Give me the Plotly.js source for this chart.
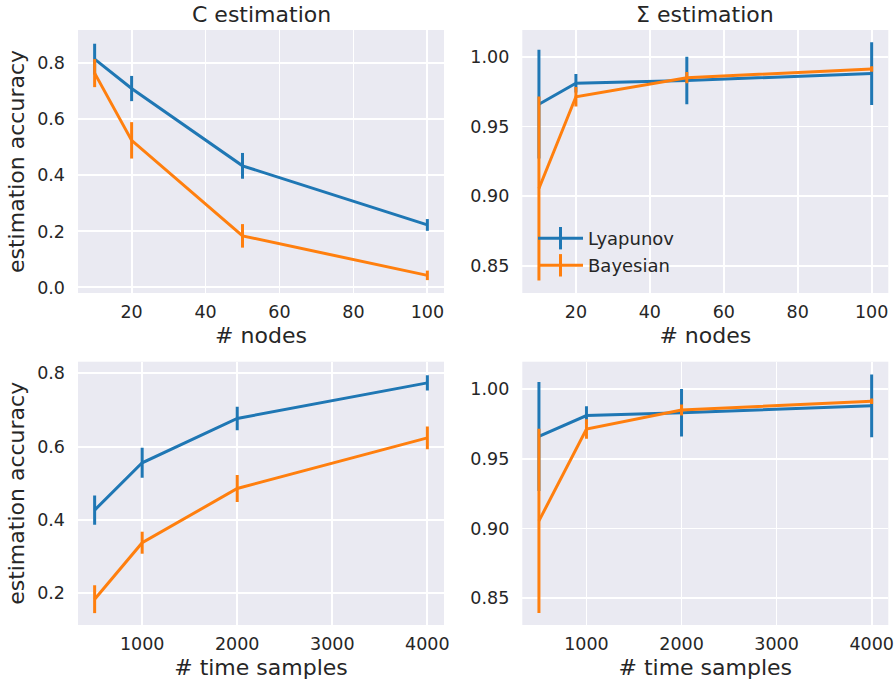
<!DOCTYPE html>
<html>
<head>
<meta charset="utf-8">
<script src="https://cdn.plot.ly/plotly-3.0.1.min.js"></script>
<style>html,body{margin:0;padding:0;background:#fff;}#chart{width:895px;height:681px;}</style>
</head>
<body>
<div id="chart"></div>
<script>
// ---- data ----
const nodes = [10, 20, 50, 100];
const samples = [500, 1000, 2000, 4000];

const cNodesLyap = [0.815, 0.710, 0.434, 0.223];
const cNodesLyapErr = [0.055, 0.045, 0.046, 0.021];
const cNodesBayes = [0.765, 0.525, 0.184, 0.043];
const cNodesBayesErr = [0.050, 0.065, 0.042, 0.017];

const sNodesLyap = [0.966, 0.981, 0.983, 0.988];
const sNodesLyapErr = [0.039, 0.0066, 0.017, 0.0225];
const sNodesBayes = [0.9055, 0.9713, 0.985, 0.9912];
const sNodesBayesErr = [0.066, 0.007, 0.004, 0.002];

const cTimeLyap = [0.427, 0.556, 0.677, 0.774];
const cTimeLyapErr = [0.040, 0.041, 0.032, 0.021];
const cTimeBayes = [0.184, 0.338, 0.486, 0.624];
const cTimeBayesErr = [0.038, 0.030, 0.037, 0.031];

const sTimeLyap = [0.966, 0.981, 0.983, 0.988];
const sTimeLyapErr = [0.039, 0.0066, 0.017, 0.0225];
const sTimeBayes = [0.9055, 0.9713, 0.985, 0.9912];
const sTimeBayesErr = [0.066, 0.007, 0.004, 0.002];

const seriesNames = ['Lyapunov', 'Bayesian'];
const panelTitles = ['C estimation', 'Σ estimation'];
const xTitles = ['# nodes', '# time samples'];
const yTitle = 'estimation accuracy';

// ---- style ----
const BLUE = '#1f77b4', ORANGE = '#ff7f0e';
const FONT = 'DejaVu Sans, sans-serif';
const TXT = '#262626';
const LW = 3;

function tr(x, y, err, color, xa, ya) {
  return {
    x: x, y: y, type: 'scatter', mode: 'lines', xaxis: xa, yaxis: ya,
    line: {color: color, width: LW}, showlegend: false, hoverinfo: 'skip',
    error_y: {type: 'data', array: err, visible: true, color: color, thickness: LW, width: 0}
  };
}

const data = [
  tr(nodes, cNodesLyap, cNodesLyapErr, BLUE, 'x', 'y'),
  tr(nodes, cNodesBayes, cNodesBayesErr, ORANGE, 'x', 'y'),
  tr(nodes, sNodesLyap, sNodesLyapErr, BLUE, 'x2', 'y2'),
  tr(nodes, sNodesBayes, sNodesBayesErr, ORANGE, 'x2', 'y2'),
  tr(samples, cTimeLyap, cTimeLyapErr, BLUE, 'x3', 'y3'),
  tr(samples, cTimeBayes, cTimeBayesErr, ORANGE, 'x3', 'y3'),
  tr(samples, sTimeLyap, sTimeLyapErr, BLUE, 'x4', 'y4'),
  tr(samples, sTimeBayes, sTimeBayesErr, ORANGE, 'x4', 'y4'),
  // legend entries (no data)
  {x: [null], y: [null], type: 'scatter', mode: 'lines+markers', xaxis: 'x2', yaxis: 'y2',
   name: seriesNames[0], legendgroup: 'a', line: {color: BLUE, width: LW},
   marker: {symbol: 'line-ns', size: 18, color: BLUE, line: {color: BLUE, width: LW}}},
  {x: [null], y: [null], type: 'scatter', mode: 'lines+markers', xaxis: 'x2', yaxis: 'y2',
   name: seriesNames[1], legendgroup: 'b', line: {color: ORANGE, width: LW},
   marker: {symbol: 'line-ns', size: 18, color: ORANGE, line: {color: ORANGE, width: LW}}}
];

const W = 895, H = 681;
const dx1 = [78 / W, 444 / W], dx2 = [522.3 / W, 888.3 / W];
const dyTop = [1 - 293 / H, 1 - 30 / H], dyBot = [1 - 625 / H, 1 - 361.7 / H];

function xax(domain, range, dtick, title, anchor) {
  return {
    domain: domain, range: range, dtick: dtick, tick0: 0, anchor: anchor,
    showgrid: true, gridcolor: '#ffffff', gridwidth: 1.8, zeroline: false, showline: false,
    ticks: '', ticklabelstandoff: 6,
    tickfont: {family: FONT, size: 17.5, color: TXT},
    title: {text: title, font: {family: FONT, size: 22, color: TXT}, standoff: 7}
  };
}
function yax(domain, range, dtick, fmt, title, anchor) {
  const a = {
    domain: domain, range: range, dtick: dtick, tick0: 0, tickformat: fmt, anchor: anchor,
    showgrid: true, gridcolor: '#ffffff', gridwidth: 1.8, zeroline: false, showline: false,
    ticks: '', ticklabelstandoff: 12,
    tickfont: {family: FONT, size: 17.5, color: TXT}
  };
  if (title) a.title = {text: title, font: {family: FONT, size: 22, color: TXT}, standoff: 6};
  return a;
}

const layout = {
  width: W, height: H,
  margin: {l: 0, r: 0, t: 0, b: 0},
  paper_bgcolor: '#ffffff', plot_bgcolor: '#EAEAF2',
  font: {family: FONT, color: TXT},
  xaxis: xax(dx1, [5.5, 104.5], 20, xTitles[0], 'y'),
  yaxis: yax(dyTop, [-0.02, 0.919], 0.2, '.1f', yTitle, 'x'),
  xaxis2: xax(dx2, [5.5, 104.5], 20, xTitles[0], 'y2'),
  yaxis2: yax(dyTop, [0.8306, 1.0192], 0.05, '.2f', null, 'x2'),
  xaxis3: xax(dx1, [325, 4175], 1000, xTitles[1], 'y3'),
  yaxis3: yax(dyBot, [0.1136, 0.8317], 0.2, '.1f', yTitle, 'x3'),
  xaxis4: xax(dx2, [325, 4175], 1000, xTitles[1], 'y4'),
  yaxis4: yax(dyBot, [0.8309, 1.0196], 0.05, '.2f', null, 'x4'),
  showlegend: true,
  legend: {
    x: 533 / W, y: 1 - 220 / H, xanchor: 'left', yanchor: 'top',
    bgcolor: 'rgba(0,0,0,0)', borderwidth: 0, tracegroupgap: 0.7, itemwidth: 45,
    font: {family: FONT, size: 18, color: TXT}
  },
  annotations: [
    {text: panelTitles[0], x: (dx1[0] + dx1[1]) / 2, y: 1 - 15 / H, xref: 'paper', yref: 'paper',
     xanchor: 'center', yanchor: 'middle', showarrow: false, font: {family: FONT, size: 22, color: TXT}},
    {text: panelTitles[1], x: (dx2[0] + dx2[1]) / 2, y: 1 - 15 / H, xref: 'paper', yref: 'paper',
     xanchor: 'center', yanchor: 'middle', showarrow: false, font: {family: FONT, size: 22, color: TXT}}
  ]
};

Plotly.newPlot('chart', data, layout, {displayModeBar: false, staticPlot: true});
</script>
</body>
</html>
